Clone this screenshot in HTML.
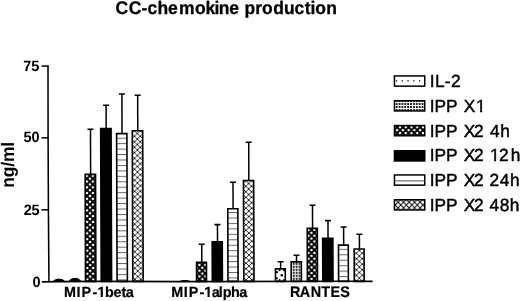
<!DOCTYPE html>
<html lang="en"><head><meta charset="utf-8"><title>CC-chemokine production</title>
<style>html,body{margin:0;padding:0;background:#fff;}svg{display:block;}text{text-rendering:geometricPrecision;font-family:"Liberation Sans",Arial,Helvetica,sans-serif;fill:#000;}</style>
</head><body>
<svg width="520" height="301" viewBox="0 0 520 301">
<defs><filter id="nf" x="-10%" y="-10%" width="120%" height="120%"><feOffset dx="0" dy="0"/></filter>
<pattern id="b0" patternUnits="userSpaceOnUse" x="87.30" y="175.80" width="5.9" height="5.76"><rect width="5.9" height="5.76" fill="#000"/><circle cx="0" cy="0" r="1.28" fill="#fff"/><circle cx="5.9" cy="0" r="1.28" fill="#fff"/><circle cx="0" cy="5.76" r="1.28" fill="#fff"/><circle cx="5.9" cy="5.76" r="1.28" fill="#fff"/><circle cx="2.95" cy="2.88" r="1.28" fill="#fff"/></pattern>
<pattern id="b2" patternUnits="userSpaceOnUse" x="0" y="137.70" width="8" height="5.45"><rect width="8" height="5.45" fill="#fff"/><rect width="8" height="1.0" fill="#666"/></pattern>
<pattern id="b3" patternUnits="userSpaceOnUse" x="137.80" y="133.50" width="5.8" height="5.5"><rect width="5.8" height="5.5" fill="#fff"/><path d="M-1.5 -1.422L7.3 6.922M-1.5 6.922L7.3 -1.422" stroke="#111" stroke-width="0.88" fill="none"/></pattern>
<pattern id="b4" patternUnits="userSpaceOnUse" x="202.40" y="279.30" width="5.9" height="5.76"><rect width="5.9" height="5.76" fill="#000"/><circle cx="0" cy="0" r="1.28" fill="#fff"/><circle cx="5.9" cy="0" r="1.28" fill="#fff"/><circle cx="0" cy="5.76" r="1.28" fill="#fff"/><circle cx="5.9" cy="5.76" r="1.28" fill="#fff"/><circle cx="2.95" cy="2.88" r="1.28" fill="#fff"/></pattern>
<pattern id="b6" patternUnits="userSpaceOnUse" x="0" y="217.50" width="8" height="5.45"><rect width="8" height="5.45" fill="#fff"/><rect width="8" height="1.0" fill="#666"/></pattern>
<pattern id="b7" patternUnits="userSpaceOnUse" x="249.00" y="260.50" width="5.8" height="5.5"><rect width="5.8" height="5.5" fill="#fff"/><path d="M-1.5 -1.422L7.3 6.922M-1.5 6.922L7.3 -1.422" stroke="#111" stroke-width="0.88" fill="none"/></pattern>
<pattern id="b9" patternUnits="userSpaceOnUse" x="291.80" y="264.75" width="2.9" height="3.0"><rect width="2.9" height="3.0" fill="#fff"/><rect x="1.0" y="1.0" width="1.90" height="2.00" fill="#222"/></pattern>
<pattern id="b10" patternUnits="userSpaceOnUse" x="311.60" y="278.90" width="5.9" height="5.76"><rect width="5.9" height="5.76" fill="#000"/><circle cx="0" cy="0" r="1.28" fill="#fff"/><circle cx="5.9" cy="0" r="1.28" fill="#fff"/><circle cx="0" cy="5.76" r="1.28" fill="#fff"/><circle cx="5.9" cy="5.76" r="1.28" fill="#fff"/><circle cx="2.95" cy="2.88" r="1.28" fill="#fff"/></pattern>
<pattern id="b12" patternUnits="userSpaceOnUse" x="0" y="254.30" width="8" height="5.45"><rect width="8" height="5.45" fill="#fff"/><rect width="8" height="1.0" fill="#666"/></pattern>
<pattern id="b13" patternUnits="userSpaceOnUse" x="359.40" y="256.00" width="5.8" height="5.5"><rect width="5.8" height="5.5" fill="#fff"/><path d="M-1.5 -1.422L7.3 6.922M-1.5 6.922L7.3 -1.422" stroke="#111" stroke-width="0.88" fill="none"/></pattern>
<pattern id="l1" patternUnits="userSpaceOnUse" x="397.60" y="102.00" width="2.88" height="3.0"><rect width="2.88" height="3.0" fill="#fff"/><rect x="1.0" y="1.0" width="1.88" height="2.00" fill="#222"/></pattern>
<pattern id="l2" patternUnits="userSpaceOnUse" x="400.00" y="127.20" width="5.75" height="5.9"><rect width="5.75" height="5.9" fill="#000"/><circle cx="0" cy="0" r="1.28" fill="#fff"/><circle cx="5.75" cy="0" r="1.28" fill="#fff"/><circle cx="0" cy="5.9" r="1.28" fill="#fff"/><circle cx="5.75" cy="5.9" r="1.28" fill="#fff"/><circle cx="2.875" cy="2.95" r="1.28" fill="#fff"/></pattern>
<pattern id="l5" patternUnits="userSpaceOnUse" x="398.05" y="202.20" width="5.5" height="5.6"><rect width="5.5" height="5.6" fill="#fff"/><path d="M-1.5 -1.527L7.0 7.127M-1.5 7.127L7.0 -1.527" stroke="#111" stroke-width="1.05" fill="none"/></pattern>
</defs>
<rect width="520" height="301" fill="#fff"/>
<g filter="url(#nf)">
<text transform="translate(0,14.10) scale(1,1.04)" x="115.53 128.68 141.57 147.52 157.53 168.02 178.95 195.02 205.48 214.58 218.75 229.37 239.10 244.45 255.20 262.07 273.18 283.96 294.47 304.74 310.43 315.37 326.35" y="0" font-size="17.5" font-weight="bold" stroke="#000" stroke-width="0.3" xml:space="preserve">CC-chemokine production</text>
<text transform="translate(13.90,0) rotate(-90) scale(1,1.04)" x="-187.70 -177.17 -166.67 -161.95 -146.67" y="0" font-size="17.5" font-weight="bold" xml:space="preserve">ng/ml</text>
<text transform="translate(0,70.65) scale(1,1.03)" x="23.33 31.25" y="0" font-size="14.5" font-weight="bold" xml:space="preserve">75</text>
<text transform="translate(0,142.45) scale(1,1.03)" x="23.50 31.48" y="0" font-size="14.5" font-weight="bold" xml:space="preserve">50</text>
<text transform="translate(0,214.65) scale(1,1.03)" x="23.65 31.60" y="0" font-size="14.5" font-weight="bold" xml:space="preserve">25</text>
<text transform="translate(0,286.65) scale(1,1.03)" x="32.48" y="0" font-size="14.5" font-weight="bold" xml:space="preserve">0</text>
</g>
<line x1="41.5" y1="66.1" x2="48.3" y2="66.1" stroke="#000" stroke-width="1.5"/>
<line x1="41.5" y1="137.8" x2="48.3" y2="137.8" stroke="#000" stroke-width="1.5"/>
<line x1="41.5" y1="209.8" x2="48.3" y2="209.8" stroke="#000" stroke-width="1.5"/>
<path d="M48.0 65.35L48.1 138L48.4 210L48.95 281.6" stroke="#000" stroke-width="1.55" fill="none"/>
<g transform="translate(-0.98,0) skewX(0.2)">
<path d="M52.6 281.4C55 279.0 56 278.8 58.9 278.8C61.8 278.8 63 279.0 65.3 281.4Z" fill="#000"/>
<path d="M68.6 281.4C71 278.3 72.2 278.1 75 278.1C77.8 278.1 79 278.3 81.4 281.4Z" fill="#000"/>
<path d="M178 281.4C181 280.2 183 280 185 280C187 280 189 280.2 192 281.4Z" fill="#000"/>
<line x1="91.00" y1="129.2" x2="91.00" y2="174.1" stroke="#000" stroke-width="1.5"/>
<line x1="88.00" y1="129.2" x2="94.00" y2="129.2" stroke="#000" stroke-width="1.6"/>
<rect x="85.50" y="174.40" width="10.40" height="107.00" fill="url(#b0)" stroke="#000" stroke-width="1.6"/>
<line x1="106.70" y1="105.3" x2="106.70" y2="128.3" stroke="#000" stroke-width="1.5"/>
<line x1="103.70" y1="105.3" x2="109.70" y2="105.3" stroke="#000" stroke-width="1.6"/>
<rect x="101.20" y="128.60" width="10.40" height="152.80" fill="#000" stroke="#000" stroke-width="1.6"/>
<line x1="122.55" y1="94.0" x2="122.55" y2="133.3" stroke="#000" stroke-width="1.5"/>
<line x1="119.55" y1="94.0" x2="125.55" y2="94.0" stroke="#000" stroke-width="1.6"/>
<rect x="117.10" y="133.60" width="10.30" height="147.80" fill="url(#b2)" stroke="#000" stroke-width="1.6"/>
<line x1="138.30" y1="95.3" x2="138.30" y2="130.5" stroke="#000" stroke-width="1.5"/>
<line x1="135.30" y1="95.3" x2="141.30" y2="95.3" stroke="#000" stroke-width="1.6"/>
<rect x="132.80" y="130.80" width="10.40" height="150.60" fill="url(#b3)" stroke="#000" stroke-width="1.6"/>
<line x1="201.85" y1="244.2" x2="201.85" y2="262.0" stroke="#000" stroke-width="1.5"/>
<line x1="198.85" y1="244.2" x2="204.85" y2="244.2" stroke="#000" stroke-width="1.6"/>
<rect x="196.60" y="262.30" width="9.90" height="19.10" fill="url(#b4)" stroke="#000" stroke-width="1.6"/>
<line x1="217.65" y1="224.6" x2="217.65" y2="241.4" stroke="#000" stroke-width="1.5"/>
<line x1="214.65" y1="224.6" x2="220.65" y2="224.6" stroke="#000" stroke-width="1.6"/>
<rect x="212.30" y="241.70" width="10.10" height="39.70" fill="#000" stroke="#000" stroke-width="1.6"/>
<line x1="233.35" y1="182.2" x2="233.35" y2="208.4" stroke="#000" stroke-width="1.5"/>
<line x1="230.35" y1="182.2" x2="236.35" y2="182.2" stroke="#000" stroke-width="1.6"/>
<rect x="228.00" y="208.70" width="10.10" height="72.70" fill="url(#b6)" stroke="#000" stroke-width="1.6"/>
<line x1="249.20" y1="142.3" x2="249.20" y2="180.2" stroke="#000" stroke-width="1.5"/>
<line x1="246.20" y1="142.3" x2="252.20" y2="142.3" stroke="#000" stroke-width="1.6"/>
<rect x="243.80" y="180.50" width="10.20" height="100.90" fill="url(#b7)" stroke="#000" stroke-width="1.6"/>
<line x1="280.70" y1="261.8" x2="280.70" y2="268.6" stroke="#000" stroke-width="1.5"/>
<line x1="277.70" y1="261.8" x2="283.70" y2="261.8" stroke="#000" stroke-width="1.6"/>
<rect x="275.50" y="268.90" width="9.80" height="12.50" fill="#fff" stroke="#000" stroke-width="1.6"/>
<circle cx="281.8" cy="275.2" r="1.25" fill="#000"/>
<circle cx="277.0" cy="272.2" r="1.1" fill="#000"/>
<circle cx="277.0" cy="278.3" r="1.1" fill="#000"/>
<circle cx="279.6" cy="270.2" r="1.0" fill="#000"/>
<circle cx="284.1" cy="270.2" r="1.0" fill="#000"/>
<circle cx="279.6" cy="279.9" r="1.0" fill="#000"/>
<circle cx="284.1" cy="279.9" r="1.0" fill="#000"/>
<line x1="296.60" y1="255.2" x2="296.60" y2="261.6" stroke="#000" stroke-width="1.5"/>
<line x1="293.60" y1="255.2" x2="299.60" y2="255.2" stroke="#000" stroke-width="1.6"/>
<rect x="291.20" y="261.90" width="10.20" height="19.50" fill="url(#b9)" stroke="#000" stroke-width="1.6"/>
<line x1="312.75" y1="205.3" x2="312.75" y2="228.1" stroke="#000" stroke-width="1.5"/>
<line x1="309.75" y1="205.3" x2="315.75" y2="205.3" stroke="#000" stroke-width="1.6"/>
<rect x="307.40" y="228.40" width="10.10" height="53.00" fill="url(#b10)" stroke="#000" stroke-width="1.6"/>
<line x1="328.20" y1="220.6" x2="328.20" y2="237.9" stroke="#000" stroke-width="1.5"/>
<line x1="325.20" y1="220.6" x2="331.20" y2="220.6" stroke="#000" stroke-width="1.6"/>
<rect x="322.80" y="238.20" width="10.20" height="43.20" fill="#000" stroke="#000" stroke-width="1.6"/>
<line x1="343.80" y1="227.0" x2="343.80" y2="244.8" stroke="#000" stroke-width="1.5"/>
<line x1="340.80" y1="227.0" x2="346.80" y2="227.0" stroke="#000" stroke-width="1.6"/>
<rect x="338.60" y="245.10" width="9.80" height="36.30" fill="url(#b12)" stroke="#000" stroke-width="1.6"/>
<line x1="359.55" y1="234.3" x2="359.55" y2="248.7" stroke="#000" stroke-width="1.5"/>
<line x1="356.55" y1="234.3" x2="362.55" y2="234.3" stroke="#000" stroke-width="1.6"/>
<rect x="354.30" y="249.00" width="9.90" height="32.40" fill="url(#b13)" stroke="#000" stroke-width="1.6"/>
</g>
<path d="M41.9 281.8L60 281.55L100 281.4L185 281.6L345 281.25L372.6 281.45" stroke="#000" stroke-width="1.7" fill="none"/>
<g filter="url(#nf)">
<text transform="translate(0,297.30) scale(1,1.015)" x="63.89 76.59 81.59 92.39 97.45 105.10 113.54 121.57 125.63" y="0" font-size="14.4" font-weight="bold" stroke="#000" stroke-width="0.2" xml:space="preserve">MIP-1beta</text>
<text transform="translate(0,297.10) scale(1,1.015)" x="171.14 183.79 188.79 199.39 204.25 211.83 218.84 222.70 231.04 239.23" y="0" font-size="14.4" font-weight="bold" stroke="#000" stroke-width="0.2" xml:space="preserve">MIP-1alpha</text>
<text transform="translate(0,297.00) scale(1,1.07)" x="289.99 299.69 310.84 321.19 330.59 340.34" y="0" font-size="14.4" font-weight="bold" stroke="#000" stroke-width="0.2" xml:space="preserve">RANTES</text>
</g>
<rect x="394.45" y="75.95" width="30.30" height="10.20" fill="#fff" stroke="#000" stroke-width="1.5"/>
<rect x="395.85" y="80.20" width="1.3" height="1.3" fill="#111"/>
<rect x="401.62" y="80.20" width="1.3" height="1.3" fill="#111"/>
<rect x="407.39" y="80.20" width="1.3" height="1.3" fill="#111"/>
<rect x="413.16" y="80.20" width="1.3" height="1.3" fill="#111"/>
<rect x="418.93" y="80.20" width="1.3" height="1.3" fill="#111"/>
<g filter="url(#nf)">
<text transform="translate(0,87.05) scale(1,1.02)" x="429.70 434.93 444.68 450.98" y="0" font-size="17.3" stroke="#000" stroke-width="0.45" xml:space="preserve">IL-2</text>
</g>
<rect x="394.45" y="100.75" width="30.30" height="10.20" fill="url(#l1)" stroke="#000" stroke-width="1.5"/>
<g filter="url(#nf)">
<text transform="translate(0,111.65) scale(1,1.02)" x="429.65 434.58 446.03 457.57 463.66 475.96" y="0" font-size="17.3" stroke="#000" stroke-width="0.45" xml:space="preserve">IPP X1</text>
</g>
<rect x="394.45" y="125.55" width="30.30" height="10.20" fill="url(#l2)" stroke="#000" stroke-width="1.5"/>
<g filter="url(#nf)">
<text transform="translate(0,136.65) scale(1,1.02)" x="429.65 434.58 446.03 457.57 463.66 473.88 483.50 489.90 500.20" y="0" font-size="17.3" stroke="#000" stroke-width="0.45" xml:space="preserve">IPP X2 4h</text>
</g>
<rect x="394.45" y="150.75" width="30.30" height="10.20" fill="#000" stroke="#000" stroke-width="1.5"/>
<g filter="url(#nf)">
<text transform="translate(0,161.35) scale(1,1.02)" x="429.65 434.58 446.03 457.57 463.66 473.88 483.50 489.98 499.08 510.65" y="0" font-size="17.3" stroke="#000" stroke-width="0.45" xml:space="preserve">IPP X2 12h</text>
</g>
<rect x="394.45" y="174.95" width="30.30" height="10.20" fill="#fff" stroke="#000" stroke-width="1.5"/>
<rect x="394.5" y="180.30" width="30" height="1.1" fill="#606060"/>
<g filter="url(#nf)">
<text transform="translate(0,185.95) scale(1,1.02)" x="429.65 434.58 446.03 457.57 463.66 473.88 483.50 489.48 499.75 509.95" y="0" font-size="17.3" stroke="#000" stroke-width="0.45" xml:space="preserve">IPP X2 24h</text>
</g>
<rect x="394.45" y="199.75" width="30.30" height="10.20" fill="url(#l5)" stroke="#000" stroke-width="1.5"/>
<g filter="url(#nf)">
<text transform="translate(0,210.65) scale(1,1.02)" x="429.65 434.58 446.03 457.57 463.66 473.88 483.50 489.45 499.85 509.65" y="0" font-size="17.3" stroke="#000" stroke-width="0.45" xml:space="preserve">IPP X2 48h</text>
</g>
<rect x="97.76" y="295.01" width="2.95" height="4.19" fill="#fff"/>
<rect x="102.89" y="295.01" width="2.77" height="4.19" fill="#fff"/>
<rect x="204.56" y="294.81" width="2.95" height="4.19" fill="#fff"/>
<rect x="209.69" y="294.81" width="2.77" height="4.19" fill="#fff"/>
<rect x="476.56" y="109.40" width="3.53" height="4.27" fill="#fff"/>
<rect x="482.07" y="109.40" width="3.40" height="4.27" fill="#fff"/>
<rect x="490.58" y="159.10" width="3.53" height="4.27" fill="#fff"/>
<rect x="496.09" y="159.10" width="3.40" height="4.27" fill="#fff"/>
</svg>
</body></html>
